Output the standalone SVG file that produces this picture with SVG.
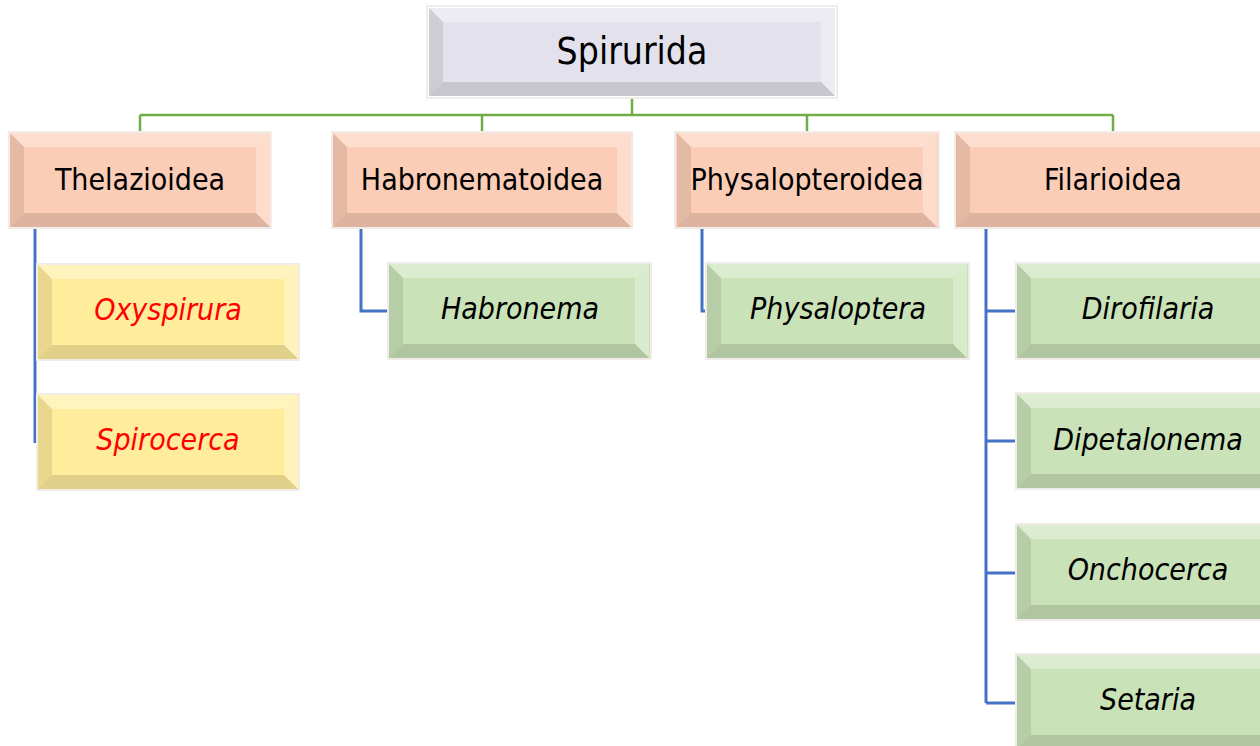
<svg xmlns="http://www.w3.org/2000/svg" xmlns:xlink="http://www.w3.org/1999/xlink" width="1260" height="746" viewBox="0 0 1260 746">
<style>
.t{font-family:"DejaVu Sans Condensed","DejaVu Sans",sans-serif;font-stretch:condensed;text-anchor:middle;fill:#000}
.t1{font-size:37px}
.t2{font-size:30px}
.t3{font-size:30px;font-style:italic}
.red{fill:#ff0000}
.frame{fill:none;stroke:#f1ece8;stroke-width:2}
.root{fill:#e3e2ec}
.pink{fill:#fccdb6}
.yel{fill:#ffed9c}
.grn{fill:#c9e2b8}
.hi{fill:#fff;opacity:.35}
.hi2{fill:#fff;opacity:.3}
.sh{fill:#000;opacity:.09}
.sh2{fill:#000;opacity:.12}
.gl{stroke:#70ad47;stroke-width:2.5;fill:none}
.bl{stroke:#4472c4;stroke-width:3;fill:none}
</style>
<defs>
<g id="bev260">
<polygon class="hi" points="0,0 260,0 246,14 14,14"/>
<polygon class="sh" points="0,0 14,14 14,80 0,94"/>
<polygon class="hi2" points="260,0 260,94 246,80 246,14"/>
<polygon class="sh2" points="0,94 14,80 246,80 260,94"/>
</g>
<g id="bev298">
<polygon class="hi" points="0,0 298,0 284,14 14,14"/>
<polygon class="sh" points="0,0 14,14 14,80 0,94"/>
<polygon class="hi2" points="298,0 298,94 284,80 284,14"/>
<polygon class="sh2" points="0,94 14,80 284,80 298,94"/>
</g>
<g id="bev320">
<polygon class="hi" points="0,0 320,0 306,14 14,14"/>
<polygon class="sh" points="0,0 14,14 14,80 0,94"/>
<polygon class="hi2" points="320,0 320,94 306,80 306,14"/>
<polygon class="sh2" points="0,94 14,80 306,80 320,94"/>
</g>
</defs>

<g id="connectors">
<path class="gl" d="M632,99 V115 M140,115 H1113 M140,115 V133 M482,115 V133 M807,115 V133 M1113,115 V133"/>
<path class="bl" d="M35,227 V443"/>
<path class="bl" d="M361,227 V311 H389"/>
<path class="bl" d="M702,227 V311 H707"/>
<path class="bl" d="M986,227 V703 M986,311 H1017 M986,441 H1017 M986,573 H1017 M986,703 H1017"/>
</g>

<g id="spirurida">
<rect class="frame" x="427" y="6" width="410" height="92"/>
<rect class="root" x="429" y="8" width="406" height="88"/>
<polygon class="hi" points="429,8 835,8 821,22 443,22"/>
<polygon class="sh" points="429,8 443,22 443,82 429,96"/>
<polygon class="hi2" points="835,8 835,96 821,82 821,22"/>
<polygon class="sh2" points="429,96 443,82 821,82 835,96"/>
<text class="t t1" x="632" y="64">Spirurida</text>
</g>

<g id="thelazioidea">
<rect class="frame" x="9" y="132" width="262" height="96"/>
<rect class="pink" x="10" y="133" width="260" height="94"/>
<use xlink:href="#bev260" x="10" y="133"/>
<text class="t t2" x="140" y="190">Thelazioidea</text>
</g>
<g id="habronematoidea">
<rect class="frame" x="332" y="132" width="300" height="96"/>
<rect class="pink" x="333" y="133" width="298" height="94"/>
<use xlink:href="#bev298" x="333" y="133"/>
<text class="t t2" x="482" y="190">Habronematoidea</text>
</g>
<g id="physalopteroidea">
<rect class="frame" x="675" y="132" width="264" height="96"/>
<rect class="pink" x="676" y="133" width="262" height="94"/>
<use xlink:href="#bev260" x="677" y="133"/>
<text class="t t2" x="807" y="190">Physalopteroidea</text>
</g>
<g id="filarioidea">
<rect class="frame" x="955" y="132" width="322" height="96"/>
<rect class="pink" x="956" y="133" width="320" height="94"/>
<use xlink:href="#bev320" x="956" y="133"/>
<text class="t t2" x="1113" y="190">Filarioidea</text>
</g>

<g id="oxyspirura">
<rect class="frame" x="37" y="264" width="262" height="96"/>
<rect class="yel" x="38" y="265" width="260" height="94"/>
<use xlink:href="#bev260" x="38" y="265"/>
<text class="t t3 red" x="168" y="320">Oxyspirura</text>
</g>
<g id="spirocerca">
<rect class="frame" x="37" y="394" width="262" height="96"/>
<rect class="yel" x="38" y="395" width="260" height="94"/>
<use xlink:href="#bev260" x="38" y="395"/>
<text class="t t3 red" x="168" y="450">Spirocerca</text>
</g>
<g id="habronema">
<rect class="frame" x="388" y="263" width="263" height="96"/>
<rect class="grn" x="389" y="264" width="261" height="94"/>
<use xlink:href="#bev260" x="389" y="264"/>
<text class="t t3" x="520" y="319">Habronema</text>
</g>
<g id="physaloptera">
<rect class="frame" x="706" y="263" width="263" height="96"/>
<rect class="grn" x="707" y="264" width="261" height="94"/>
<use xlink:href="#bev260" x="707" y="264"/>
<text class="t t3" x="838" y="319">Physaloptera</text>
</g>
<g id="dirofilaria">
<rect class="frame" x="1016" y="263" width="262" height="96"/>
<rect class="grn" x="1017" y="264" width="260" height="94"/>
<use xlink:href="#bev260" x="1017" y="264"/>
<text class="t t3" x="1148" y="319">Dirofilaria</text>
</g>
<g id="dipetalonema">
<rect class="frame" x="1016" y="393" width="262" height="96"/>
<rect class="grn" x="1017" y="394" width="260" height="94"/>
<use xlink:href="#bev260" x="1017" y="394"/>
<text class="t t3" x="1148" y="450">Dipetalonema</text>
</g>
<g id="onchocerca">
<rect class="frame" x="1016" y="524" width="262" height="96"/>
<rect class="grn" x="1017" y="525" width="260" height="94"/>
<use xlink:href="#bev260" x="1017" y="525"/>
<text class="t t3" x="1148" y="580">Onchocerca</text>
</g>
<g id="setaria">
<rect class="frame" x="1016" y="654" width="262" height="96"/>
<rect class="grn" x="1017" y="655" width="260" height="94"/>
<use xlink:href="#bev260" x="1017" y="655"/>
<text class="t t3" x="1148" y="710">Setaria</text>
</g>
</svg>
